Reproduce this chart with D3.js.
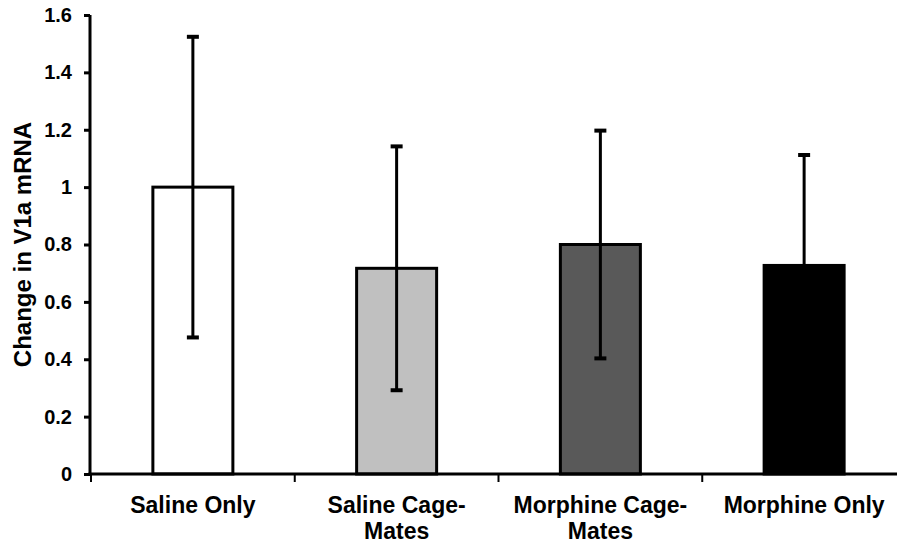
<!DOCTYPE html>
<html>
<head>
<meta charset="utf-8">
<script src="https://cdn.jsdelivr.net/npm/d3@7"></script>
<style>
  html, body { margin: 0; padding: 0; background: #fff; }
  svg { display: block; }
  text { font-family: "Liberation Sans", Arial, sans-serif; font-weight: bold; fill: #000; }
</style>
</head>
<body>
<svg id="chart" width="897" height="546"></svg>
<script>
// ---- data ----
const categories = ["Saline Only", "Saline Cage-Mates", "Morphine Cage-Mates", "Morphine Only"];
const means      = [1.0, 0.717, 0.80, 0.727];
const errors     = [0.524, 0.425, 0.397, 0.385];
const yTicks     = [0, 0.2, 0.4, 0.6, 0.8, 1.0, 1.2, 1.4, 1.6];
const yTickLabels = ["0", "0.2", "0.4", "0.6", "0.8", "1", "1.2", "1.4", "1.6"];
const yTitle     = "Change in V1a mRNA";

// ---- styles ----
const fills = ["#ffffff", "#c0c0c0", "#595959", "#000000"];

const svg = d3.select("#chart");

const x = d3.scaleBand().domain(categories).range([91, 906]).padding(0);
const y = d3.scaleLinear().domain([0, 1.6]).range([474, 15]);

const barW = 80;
const rows = categories.map((c, i) => ({ c, m: means[i], e: errors[i], fill: fills[i] }));

// bars
svg.append("g").selectAll("rect").data(rows).join("rect")
  .attr("x", d => x(d.c) + x.bandwidth() / 2 - barW / 2)
  .attr("y", d => y(d.m))
  .attr("width", barW)
  .attr("height", d => y(0) - y(d.m))
  .attr("fill", d => d.fill)
  .attr("stroke", "#000")
  .attr("stroke-width", 3);

// error bars
const eg = svg.append("g");
eg.selectAll("line.v").data(rows).join("line").attr("class", "v")
  .attr("x1", d => x(d.c) + x.bandwidth() / 2)
  .attr("x2", d => x(d.c) + x.bandwidth() / 2)
  .attr("y1", d => y(d.m - d.e))
  .attr("y2", d => y(d.m + d.e))
  .attr("stroke", "#000").attr("stroke-width", 3);
const capW = 12;
[1, -1].forEach(s => {
  eg.selectAll("line.cap" + (s > 0 ? "u" : "l")).data(rows).join("line")
    .attr("class", "cap" + (s > 0 ? "u" : "l"))
    .attr("x1", d => x(d.c) + x.bandwidth() / 2 - capW / 2)
    .attr("x2", d => x(d.c) + x.bandwidth() / 2 + capW / 2)
    .attr("y1", d => y(d.m + s * d.e))
    .attr("y2", d => y(d.m + s * d.e))
    .attr("stroke", "#000").attr("stroke-width", 4);
});

// y axis
const yAxis = d3.axisLeft(y).tickValues(yTicks)
  .tickFormat((d, i) => yTickLabels[i]).tickSize(6).tickPadding(12);
const gy = svg.append("g").attr("transform", "translate(90,0)").call(yAxis);
gy.select(".domain").attr("stroke", "#000").attr("stroke-width", 3).attr("d", `M0,${y(1.6)}V${y(0) + 1.5}`);
gy.selectAll(".tick line").attr("stroke", "#000").attr("stroke-width", 3);
gy.selectAll(".tick text").attr("font-size", 20).attr("font-family", "Liberation Sans, Arial, sans-serif").attr("font-weight", "bold");

// x axis
const gx = svg.append("g").attr("transform", `translate(0,${y(0)})`);
gx.append("line").attr("x1", 88.5).attr("x2", 906).attr("y1", 0).attr("y2", 0)
  .attr("stroke", "#000").attr("stroke-width", 3);
const bounds = categories.map(c => x(c)).concat([x.range()[1]]);
gx.selectAll("line.tk").data(bounds).join("line").attr("class", "tk")
  .attr("x1", d => d).attr("x2", d => d).attr("y1", 0).attr("y2", 8)
  .attr("stroke", "#000").attr("stroke-width", 2);

// category labels
const labels = svg.append("g");
categories.forEach(c => {
  const idx = c.indexOf("-");
  const lines = idx >= 0 ? [c.slice(0, idx + 1), c.slice(idx + 1)] : [c];
  const t = labels.append("text")
    .attr("x", x(c) + x.bandwidth() / 2)
    .attr("y", 513)
    .attr("text-anchor", "middle")
    .attr("font-size", 23);
  lines.forEach((l, k) => {
    t.append("tspan").attr("x", x(c) + x.bandwidth() / 2).attr("dy", k === 0 ? 0 : 26).text(l);
  });
});

// y title
svg.append("text")
  .attr("transform", `translate(31,${(y(0) + y(1.6)) / 2}) rotate(-90)`)
  .attr("text-anchor", "middle")
  .attr("font-size", 24)
  .text(yTitle);
</script>
</body>
</html>
